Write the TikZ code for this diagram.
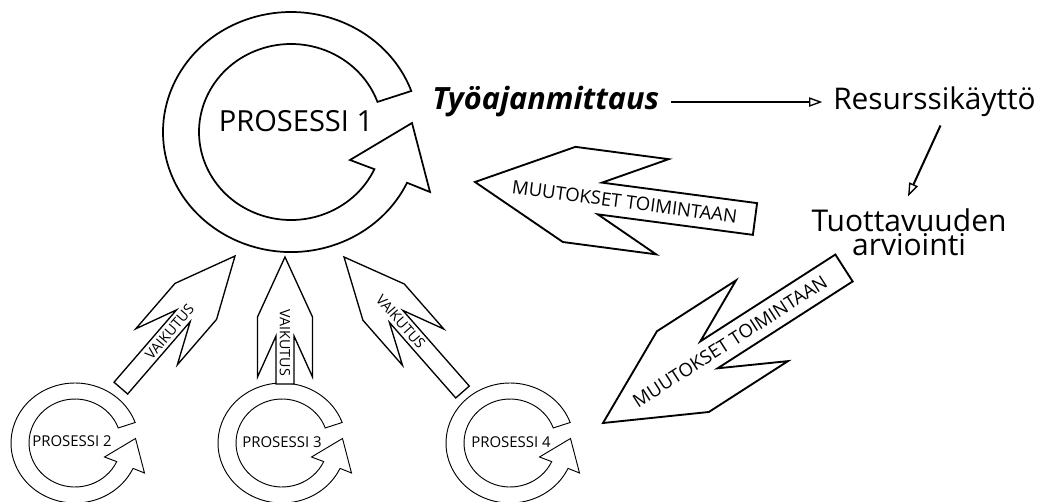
\documentclass[tikz,border=0pt]{standalone}
\usepackage{fontspec}
\setmainfont{Open Sans}
\usetikzlibrary{calc,arrows.meta}

% one unit = one pixel, y grows downwards
\tikzset{
  x=0.75pt, y=-0.75pt,
  ringbig/.style={draw=black, line width=1.3pt, fill=white, line join=miter},
  ringsmall/.style={draw=black, line width=0.7pt, fill=white, line join=miter},
  blkbig/.style={draw=black, line width=1.4pt, fill=white, line join=miter},
  blksmall/.style={draw=black, line width=1.0pt, fill=white, line join=miter},
  link/.style={line width=1.5pt, shorten <=9pt, shorten >=8pt,
    -{Triangle[open, length=10pt, width=7pt, line width=1pt]}},
  txt/.style={inner sep=0pt, text=black},
  bigproc/.style={txt, font=\fontsize{21.8pt}{25pt}\selectfont},
  smallproc/.style={txt, font=\fontsize{11.2pt}{13pt}\selectfont},
  vtext/.style={txt, font=\fontsize{10.7pt}{12pt}\selectfont},
  mtext/.style={txt, font=\fontsize{13.9pt}{16pt}\selectfont},
}

% ring with a barbed head; drawn around the current origin
\newcommand{\procring}[1]{%
  \path[#1] (120.3,-41.0)
    arc[start angle=340, end angle=25, x radius=128, y radius=120]
    -- (139,60) -- (121,-9) -- (59,28) -- (83.4,37.2)
    arc[start angle=25, end angle=340, x radius=92, y radius=88]
    -- cycle;}

% block arrow: style, tip, base, shoulder, barb, notch, head half width, shaft half width
\newcommand{\blockarrow}[8]{%
  \path let \p1=($(#3)-(#2)$) in \pgfextra{%
    \pgfmathsetmacro\baang{atan2(\y1,\x1)}%
    \pgfmathsetmacro\balen{veclen(\x1,\y1)/0.75}%
    \xdef\baang{\baang}\xdef\balen{\balen}};
  \begin{scope}[shift={(#2)}, rotate=\baang]
    \path[#1] (0,0) -- (#4,#7) -- (#5,#7) -- (#6,#8) -- (\balen,#8)
      -- (\balen,-#8) -- (#6,-#8) -- (#5,-#7) -- (#4,-#7) -- cycle;
  \end{scope}}

\begin{document}
\begin{tikzpicture}
\useasboundingbox (0,0) rectangle (1042,502);
\fill[white] (0,0) rectangle (1042,502);

% process rings
\begin{scope}[shift={(291,132)}] \procring{ringbig} \end{scope}
\begin{scope}[shift={(75,443)}, scale=0.5] \procring{ringsmall} \end{scope}
\begin{scope}[shift={(282,443)}, scale=0.5] \procring{ringsmall} \end{scope}
\begin{scope}[shift={(510,443)}, scale=0.5] \procring{ringsmall} \end{scope}

\node[bigproc] (p1) at (296,121.5) {PROSESSI 1};
\node[smallproc] (p2) at (72,441.5) {PROSESSI 2};
\node[smallproc] (p3) at (282,442) {PROSESSI 3};
\node[smallproc] (p4) at (511,442) {PROSESSI 4};

% influence arrows towards process 1
\coordinate (v2tip) at (235,256);   \coordinate (v2base) at (120.5,388.5);
\coordinate (v3tip) at (285,257);   \coordinate (v3base) at (285,384);
\coordinate (v4tip) at (344,257);   \coordinate (v4base) at (462.5,392);
\blockarrow{blksmall}{v2tip}{v2base}{60}{120}{79}{27.5}{9}
\blockarrow{blksmall}{v3tip}{v3base}{60}{120}{79}{27.5}{9}
\blockarrow{blksmall}{v4tip}{v4base}{60}{120}{79}{27.5}{9}
\node[vtext, rotate=49.2] (v2lbl) at ($(v2tip)!75pt!(v2base)$) {VAIKUTUS};
\node[vtext, rotate=-90] (v3lbl) at ($(v3tip)!64.5pt!(v3base)$) {VAIKUTUS};
\node[vtext, rotate=-48.7] (v4lbl) at ($(v4tip)!64.5pt!(v4base)$) {VAIKUTUS};

% change arrows
\coordinate (m1tip) at (475,182);   \coordinate (m1base) at (755,219);
\coordinate (m2tip) at (603,423);   \coordinate (m2base) at (844,268);
\blockarrow{blkbig}{m1tip}{m1base}{95}{189}{126}{48}{16}
\blockarrow{blkbig}{m2tip}{m2base}{95}{189}{126}{48}{16}
\node[mtext, rotate=-7.5] (m1lbl) at ($(m1tip)!113.25pt!(m1base)$) {MUUTOKSET TOIMINTAAN};
\node[mtext, rotate=32.7] (m2lbl) at ($(m2tip)!113.25pt!(m2base)$) {MUUTOKSET TOIMINTAAN};

% measurement chain
\node[txt, anchor=base west, font=\fontsize{23pt}{26pt}\selectfont\bfseries\itshape]
  (tyo) at (432,110) {Työajanmittaus};
\node[txt, anchor=base west, font=\fontsize{22.4pt}{26pt}\selectfont]
  (res) at (833,110) {Resurssikäyttö};
\node[txt, anchor=south, align=center, font=\fontsize{22.5pt}{18pt}\selectfont]
  (tuo) at (909,256) {Tuottavuuden\\arviointi};

\draw[link] (tyo.east) -- (tyo.east -| res.west);
\draw[link, shorten <=0pt, shorten >=0pt] ($(res.south)+(6,8)$) -- ($(tuo.north)+(-1,-12)$);
\end{tikzpicture}
\end{document}
